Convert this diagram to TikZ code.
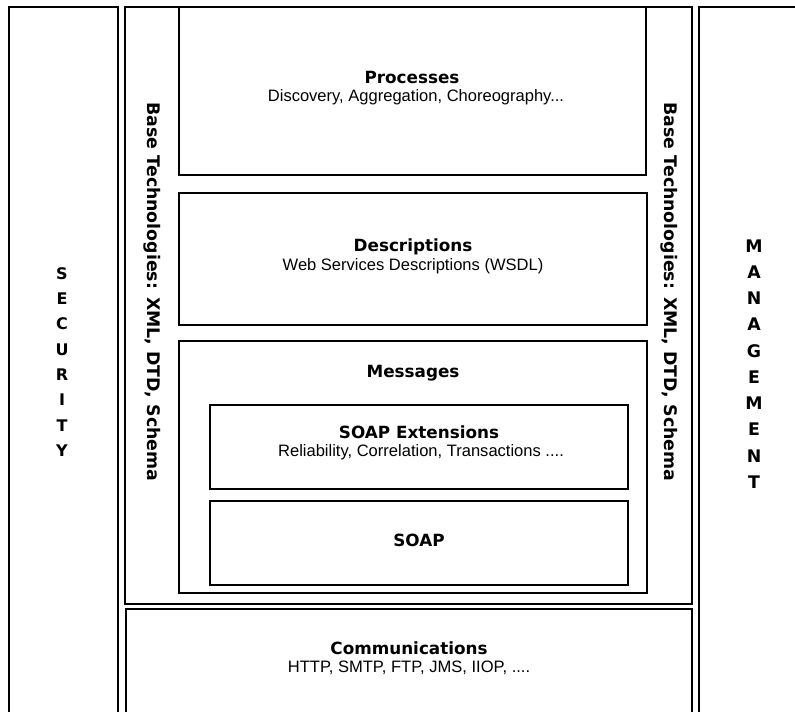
\documentclass[tikz,border=0pt]{standalone}
\usepackage{fontspec}
\setmainfont{Liberation Sans}
\newfontfamily\headfont{DejaVu Sans}
\begin{document}
\begin{tikzpicture}[x=0.75pt,y=-0.75pt,
  frame/.style={draw=black, line width=0.9pt},
  layer/.style={draw=black, line width=1.1pt},
  title/.style={font=\headfont\bfseries\fontsize{12.6}{14}\selectfont, inner sep=0pt},
  sub/.style={font=\fontsize{12.4}{14}\selectfont, inner sep=0pt},
  side/.style={font=\headfont\bfseries\fontsize{13}{15}\selectfont, rotate=-90, inner sep=0pt},
  letters/.style={align=center, inner sep=0pt}]
\useasboundingbox (0,0) rectangle (795,712);
\clip (0,0) rectangle (795,712);

% outer columns and frames
\draw[frame] (9,7) rectangle (118,730);
\draw[frame] (125,7) rectangle (692,604);
\draw[frame] (126,609) rectangle (692,730);
\draw[frame] (699,7) rectangle (820,730);

% stacked layers
\draw[layer] (179,7) rectangle (646,175);
\draw[layer] (179,193) rectangle (647,325);
\draw[layer] (179,341) rectangle (647,593);
\draw[layer] (210,405) rectangle (628,489);
\draw[layer] (210,501) rectangle (628,585);

% layer texts
\node[title] (proc) at (412,78) {Processes};
\node[sub] (procsub) at (416,97) {Discovery, Aggregation, Choreography...};
\node[title] (desc) at (413,247) {Descriptions};
\node[sub] (descsub) at (413,266) {Web Services Descriptions (WSDL)};
\node[title] (msg) at (413,373) {Messages};
\node[title] (ext) at (419,432) {SOAP Extensions};
\node[sub] (extsub) at (421,452) {Reliability, Correlation, Transactions ....};
\node[title] (soap) at (419,540) {SOAP};
\node[title] (comm) at (409,648) {Communications};
\node[sub] (commsub) at (409,668) {HTTP, SMTP, FTP, JMS, IIOP, ....};

% base technology bands
\node[side] (baseL) at (152,292) {Base Technologies: XML, DTD, Schema};
\node[side] (baseR) at (669,292) {Base Technologies: XML, DTD, Schema};

% vertical column labels
\node[letters, font=\headfont\bfseries\fontsize{12}{19}\selectfont] (sec) at (62,362)
  {S\\E\\C\\U\\R\\I\\T\\Y};
\node[letters, font=\headfont\bfseries\fontsize{13}{19.7}\selectfont] (mgmt) at (754,364)
  {M\\A\\N\\A\\G\\E\\M\\E\\N\\T};
\end{tikzpicture}
\end{document}
